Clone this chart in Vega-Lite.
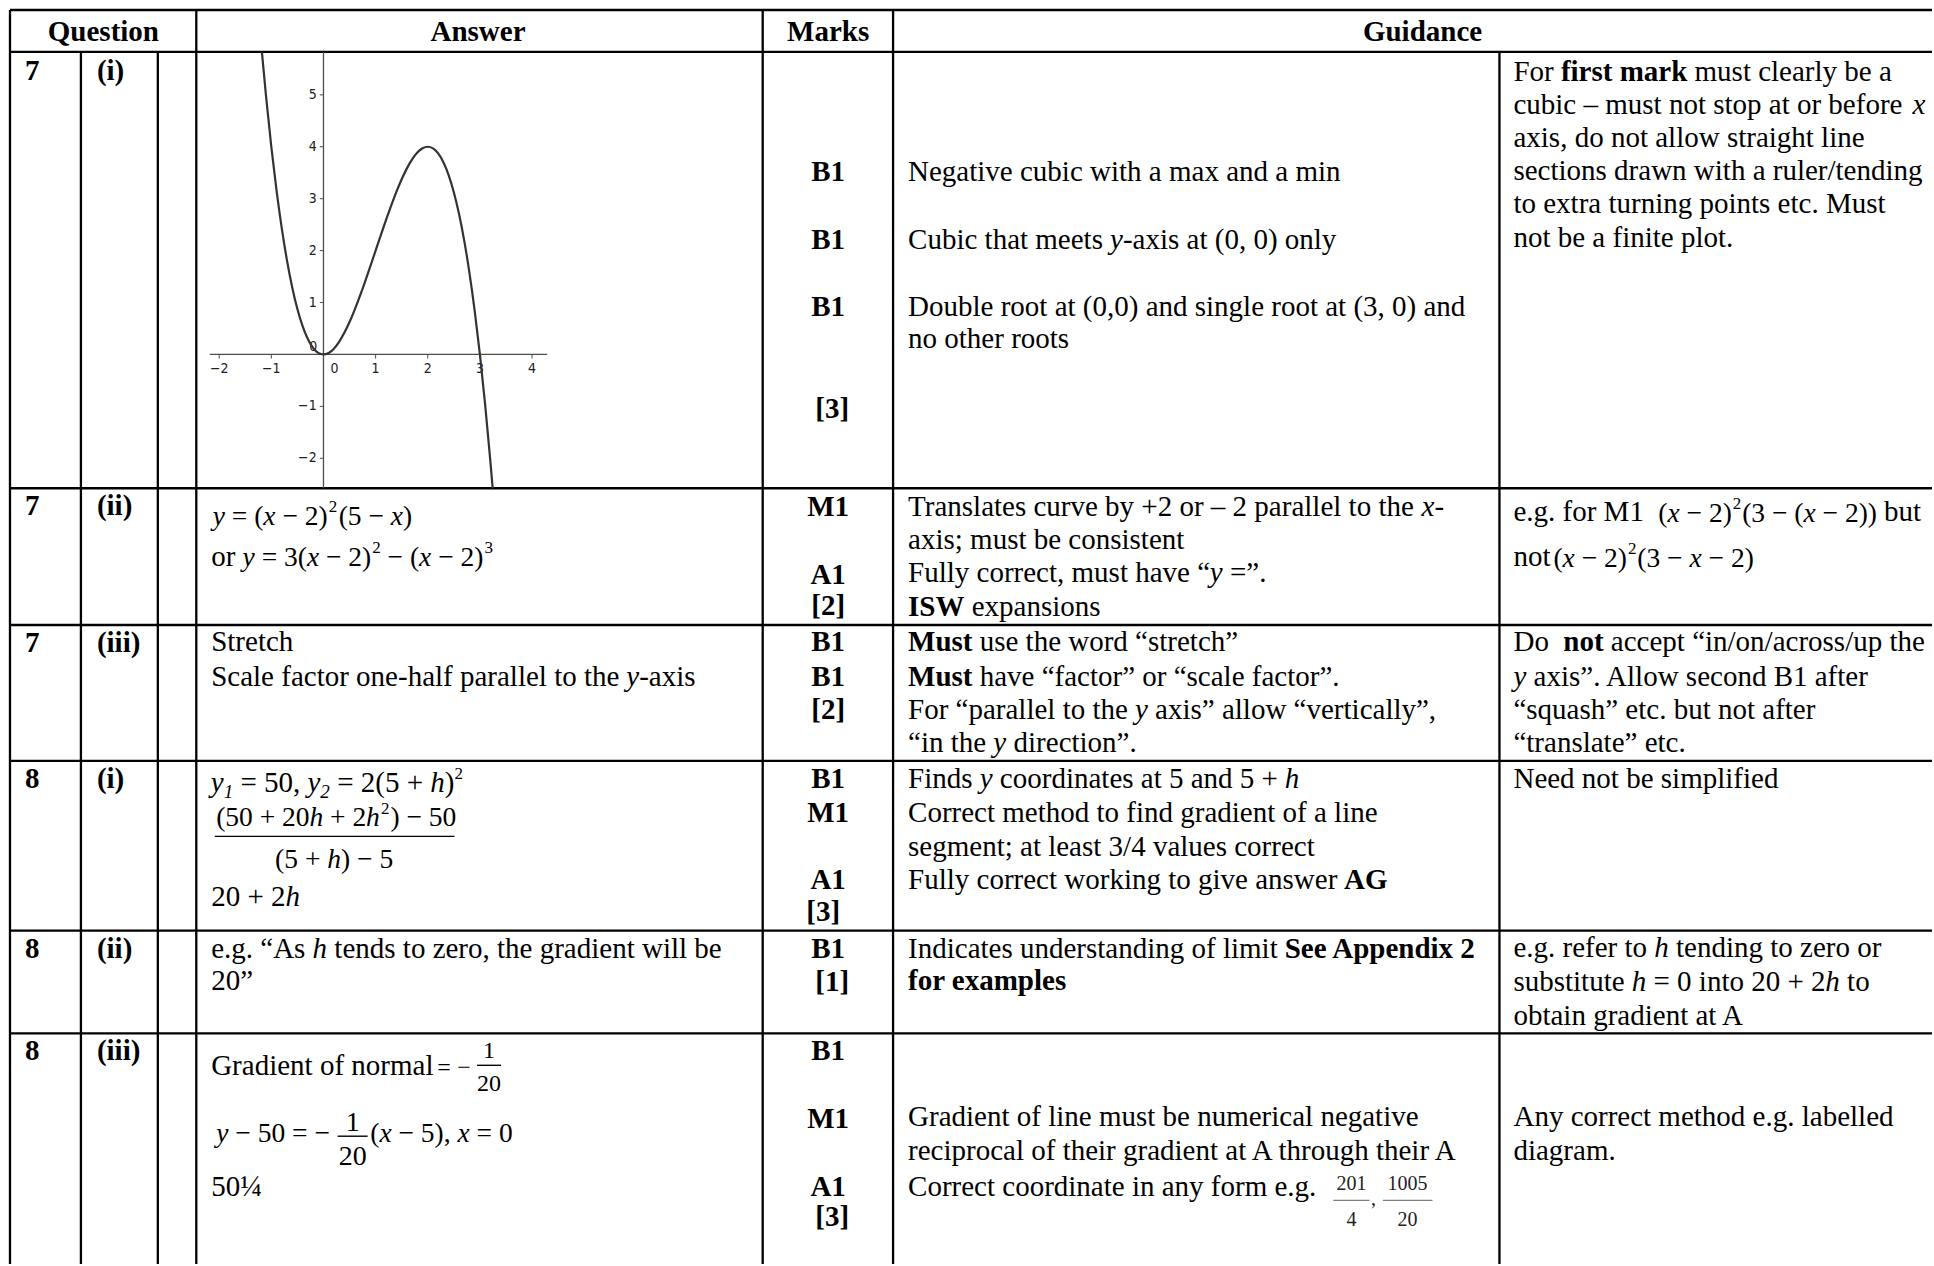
{
  "$schema": "https://vega.github.io/schema/vega-lite/v6.json",
  "width": 1934,
  "height": 1266,
  "autosize": {"type": "fit", "contains": "padding"},
  "padding": 0,
  "background": "white",
  "config": {"view": {"stroke": null}},
  "datasets": {
    "grid": [
      {"x": 10, "y": 10, "x2": 1934, "y2": 10},
      {"x": 10, "y": 52, "x2": 1934, "y2": 52},
      {"x": 10, "y": 489, "x2": 1934, "y2": 489},
      {"x": 10, "y": 626, "x2": 1934, "y2": 626},
      {"x": 10, "y": 762, "x2": 1934, "y2": 762},
      {"x": 10, "y": 932, "x2": 1934, "y2": 932},
      {"x": 10, "y": 1035, "x2": 1934, "y2": 1035},
      {"x": 10, "y": 10, "x2": 10, "y2": 1266},
      {"x": 81, "y": 52, "x2": 81, "y2": 1266},
      {"x": 158, "y": 52, "x2": 158, "y2": 1266},
      {"x": 196.5, "y": 10, "x2": 196.5, "y2": 1266},
      {"x": 763.5, "y": 10, "x2": 763.5, "y2": 1266},
      {"x": 894, "y": 10, "x2": 894, "y2": 1266},
      {"x": 1501, "y": 52, "x2": 1501, "y2": 1266}
    ],
    "bars": [
      {"x": 215, "y": 837.7, "x2": 455, "y2": 837.7},
      {"x": 477.6, "y": 1067, "x2": 501.5, "y2": 1067},
      {"x": 338, "y": 1138, "x2": 368, "y2": 1138}
    ],
    "barsGray": [
      {"x": 1334.6, "y": 1202.3, "x2": 1370.9, "y2": 1202.3},
      {"x": 1384.4, "y": 1202.3, "x2": 1434, "y2": 1202.3}
    ],
    "tBoldC": [
      {"x": 103.5, "y": 41, "t": "Question"},
      {"x": 478.5, "y": 41, "t": "Answer"},
      {"x": 829, "y": 41, "t": "Marks"},
      {"x": 1424, "y": 41, "t": "Guidance"},
      {"x": 829, "y": 181, "t": "B1"},
      {"x": 829, "y": 249, "t": "B1"},
      {"x": 829, "y": 317, "t": "B1"},
      {"x": 833, "y": 419, "t": "[3]"},
      {"x": 829, "y": 517, "t": "M1"},
      {"x": 829, "y": 585, "t": "A1"},
      {"x": 829, "y": 616, "t": "[2]"},
      {"x": 829, "y": 652, "t": "B1"},
      {"x": 829, "y": 687, "t": "B1"},
      {"x": 829, "y": 720, "t": "[2]"},
      {"x": 829, "y": 789, "t": "B1"},
      {"x": 829, "y": 823, "t": "M1"},
      {"x": 829, "y": 890, "t": "A1"},
      {"x": 824, "y": 922, "t": "[3]"},
      {"x": 829, "y": 960, "t": "B1"},
      {"x": 833, "y": 993, "t": "[1]"},
      {"x": 829, "y": 1062, "t": "B1"},
      {"x": 829, "y": 1130, "t": "M1"},
      {"x": 829, "y": 1198, "t": "A1"},
      {"x": 833, "y": 1228, "t": "[3]"}
    ],
    "tBold": [
      {"x": 25, "y": 80, "t": "7"}, {"x": 97, "y": 80, "t": "(i)"},
      {"x": 25, "y": 516, "t": "7"}, {"x": 97, "y": 516, "t": "(ii)"},
      {"x": 25, "y": 653, "t": "7"}, {"x": 97, "y": 653, "t": "(iii)"},
      {"x": 25, "y": 789, "t": "8"}, {"x": 97, "y": 789, "t": "(i)"},
      {"x": 25, "y": 960, "t": "8"}, {"x": 97, "y": 960, "t": "(ii)"},
      {"x": 25, "y": 1062, "t": "8"}, {"x": 97, "y": 1062, "t": "(iii)"},
      {"x": 1562.5, "y": 81, "t": "first mark"},
      {"x": 909, "y": 617, "t": "ISW"},
      {"x": 909, "y": 652, "t": "Must"},
      {"x": 909, "y": 687, "t": "Must"},
      {"x": 1345.5, "y": 890, "t": "AG"},
      {"x": 1286, "y": 960, "t": "See Appendix 2"},
      {"x": 909, "y": 992, "t": "for examples"},
      {"x": 1564.9, "y": 652, "t": "not"}
    ],
    "tItal": [
      {"x": 1914.5, "y": 114, "t": "x"},
      {"x": 1111.2, "y": 249, "t": "y"},
      {"x": 1423, "y": 517, "t": "x"},
      {"x": 1211, "y": 583, "t": "y"},
      {"x": 626.9, "y": 687, "t": "y"},
      {"x": 1136.1, "y": 720, "t": "y"},
      {"x": 994.4, "y": 753, "t": "y"},
      {"x": 1515, "y": 687, "t": "y"},
      {"x": 211, "y": 793, "t": "y"},
      {"x": 307.8, "y": 793, "t": "y"},
      {"x": 430.7, "y": 793, "t": "h"},
      {"x": 285.8, "y": 907, "t": "h"},
      {"x": 980.7, "y": 789, "t": "y"},
      {"x": 1286.2, "y": 789, "t": "h"},
      {"x": 312.9, "y": 960, "t": "h"},
      {"x": 1655.9, "y": 959, "t": "h"},
      {"x": 1633.4, "y": 993, "t": "h"},
      {"x": 1827.2, "y": 993, "t": "h"}
    ],
    "tReg": [
      {"x": 909, "y": 181, "t": "Negative cubic with a max and a min"},
      {"x": 909, "y": 249, "t": "Cubic that meets"},
      {"x": 1124.1, "y": 249, "t": "-axis at (0, 0) only"},
      {"x": 909, "y": 317, "t": "Double root at (0,0) and single root at (3, 0) and"},
      {"x": 909, "y": 349, "t": "no other roots"},
      {"x": 1515, "y": 81, "t": "For"},
      {"x": 1696.3, "y": 81, "t": "must clearly be a"},
      {"x": 1515, "y": 114, "t": "cubic – must not stop at or before"},
      {"x": 1515, "y": 147, "t": "axis, do not allow straight line"},
      {"x": 1515, "y": 180, "t": "sections drawn with a ruler/tending"},
      {"x": 1515, "y": 213, "t": "to extra turning points etc.  Must"},
      {"x": 1515, "y": 247, "t": "not be a finite plot."},
      {"x": 211.4, "y": 567, "t": "or"},
      {"x": 909, "y": 517, "t": "Translates curve by +2 or – 2 parallel to the"},
      {"x": 1435.9, "y": 517, "t": "-"},
      {"x": 909, "y": 550, "t": "axis;  must be consistent"},
      {"x": 909, "y": 583, "t": "Fully correct, must have “"},
      {"x": 1231.2, "y": 583, "t": "=”."},
      {"x": 972.7, "y": 617, "t": "expansions"},
      {"x": 1515, "y": 522, "t": "e.g. for M1"},
      {"x": 1886, "y": 522, "t": "but"},
      {"x": 1515, "y": 567, "t": "not"},
      {"x": 211.4, "y": 652, "t": "Stretch"},
      {"x": 211.4, "y": 687, "t": "Scale factor one-half parallel to the"},
      {"x": 639.8, "y": 687, "t": "-axis"},
      {"x": 980.7, "y": 652, "t": "use the word “stretch”"},
      {"x": 980.7, "y": 687, "t": "have “factor” or “scale factor”."},
      {"x": 909, "y": 720, "t": "For “parallel to the"},
      {"x": 1156.3, "y": 720, "t": "axis” allow “vertically”,"},
      {"x": 909, "y": 753, "t": "“in the"},
      {"x": 1014.6, "y": 753, "t": "direction”."},
      {"x": 1515, "y": 652, "t": "Do"},
      {"x": 1612.5, "y": 652, "t": "accept “in/on/across/up the"},
      {"x": 1535.2, "y": 687, "t": "axis”.  Allow second B1 after"},
      {"x": 1515, "y": 720, "t": "“squash” etc. but not after"},
      {"x": 1515, "y": 753, "t": "“translate” etc."},
      {"x": 240.7, "y": 793, "t": "= 50,"},
      {"x": 337.5, "y": 793, "t": "= 2(5 +"},
      {"x": 445.2, "y": 793, "t": ")"},
      {"x": 211.4, "y": 907, "t": "20 + 2"},
      {"x": 909, "y": 789, "t": "Finds"},
      {"x": 1000.9, "y": 789, "t": "coordinates at 5 and 5 +"},
      {"x": 909, "y": 823, "t": "Correct method to find gradient of a line"},
      {"x": 909, "y": 857, "t": "segment; at least 3/4 values correct"},
      {"x": 909, "y": 890, "t": "Fully correct working to give answer"},
      {"x": 1515, "y": 789, "t": "Need not be simplified"},
      {"x": 211.4, "y": 960, "t": "e.g. “As"},
      {"x": 334.7, "y": 960, "t": "tends to zero, the gradient will be"},
      {"x": 211.4, "y": 992, "t": "20”"},
      {"x": 909, "y": 960, "t": "Indicates understanding of limit"},
      {"x": 1515, "y": 959, "t": "e.g. refer to"},
      {"x": 1677.7, "y": 959, "t": "tending to zero or"},
      {"x": 1515, "y": 993, "t": "substitute"},
      {"x": 1655.2, "y": 993, "t": "= 0 into 20 + 2"},
      {"x": 1849, "y": 993, "t": "to"},
      {"x": 1515, "y": 1027, "t": "obtain gradient at A"},
      {"x": 211.4, "y": 1077, "t": "Gradient of normal"},
      {"x": 211.4, "y": 1198, "t": "50¼"},
      {"x": 909, "y": 1128, "t": "Gradient of line must be numerical negative"},
      {"x": 909, "y": 1162, "t": "reciprocal of their gradient at A through their A"},
      {"x": 909, "y": 1198, "t": "Correct coordinate in any form e.g."},
      {"x": 1515, "y": 1128, "t": "Any correct method e.g. labelled"},
      {"x": 1515, "y": 1162, "t": "diagram."}
    ],
    "mReg": [
      {"x": 232.1, "y": 526, "t": "= ("},
      {"x": 282.7, "y": 526, "t": "− 2)"},
      {"x": 339, "y": 526, "t": "(5 −"},
      {"x": 403.4, "y": 526, "t": ")"},
      {"x": 261.9, "y": 567, "t": "= 3("},
      {"x": 326.3, "y": 567, "t": "− 2)"},
      {"x": 388, "y": 567, "t": "− ("},
      {"x": 438.6, "y": 567, "t": "− 2)"},
      {"x": 1660, "y": 523, "t": "("},
      {"x": 1688.3, "y": 523, "t": "− 2)"},
      {"x": 1744, "y": 523, "t": "(3 − ("},
      {"x": 1824.4, "y": 523, "t": "− 2))"},
      {"x": 1555, "y": 568, "t": "("},
      {"x": 1583.3, "y": 568, "t": "− 2)"},
      {"x": 1639, "y": 568, "t": "(3 −"},
      {"x": 1710.3, "y": 568, "t": "− 2)"},
      {"x": 216.4, "y": 827, "t": "(50 + 20"},
      {"x": 330.4, "y": 827, "t": "+ 2"},
      {"x": 390.8, "y": 827, "t": ") − 50"},
      {"x": 275.4, "y": 869, "t": "(5 +"},
      {"x": 341.4, "y": 869, "t": ") − 5"},
      {"x": 235.5, "y": 1144, "t": "− 50 = −"},
      {"x": 370.6, "y": 1144, "t": "("},
      {"x": 398.9, "y": 1144, "t": "− 5),"},
      {"x": 477.1, "y": 1144, "t": "= 0"}
    ],
    "mItal": [
      {"x": 213, "y": 526, "t": "y"},
      {"x": 263.6, "y": 526, "t": "x"},
      {"x": 391.2, "y": 526, "t": "x"},
      {"x": 242.8, "y": 567, "t": "y"},
      {"x": 307.2, "y": 567, "t": "x"},
      {"x": 419.5, "y": 567, "t": "x"},
      {"x": 1669.2, "y": 523, "t": "x"},
      {"x": 1805.3, "y": 523, "t": "x"},
      {"x": 1564.2, "y": 568, "t": "x"},
      {"x": 1691.2, "y": 568, "t": "x"},
      {"x": 309.8, "y": 827, "t": "h"},
      {"x": 366.5, "y": 827, "t": "h"},
      {"x": 327.6, "y": 869, "t": "h"},
      {"x": 216.4, "y": 1144, "t": "y"},
      {"x": 379.8, "y": 1144, "t": "x"},
      {"x": 458, "y": 1144, "t": "x"}
    ],
    "mSup": [
      {"x": 329, "y": 513, "t": "2"},
      {"x": 372.6, "y": 554, "t": "2"},
      {"x": 484.9, "y": 554, "t": "3"},
      {"x": 1734.6, "y": 510, "t": "2"},
      {"x": 1629.6, "y": 555, "t": "2"},
      {"x": 381.3, "y": 815, "t": "2"},
      {"x": 454.9, "y": 780, "t": "2"}
    ],
    "subItal": [
      {"x": 223.9, "y": 799, "t": "1"},
      {"x": 320.7, "y": 799, "t": "2"}
    ],
    "fr28": [
      {"x": 353, "y": 1133, "t": "1"},
      {"x": 353, "y": 1167, "t": "20"}
    ],
    "fr24": [
      {"x": 489.5, "y": 1060, "t": "1"},
      {"x": 489.5, "y": 1093, "t": "20"},
      {"x": 444.6, "y": 1077, "t": "="},
      {"x": 464.5, "y": 1077, "t": "−"}
    ],
    "fr20": [
      {"x": 1353, "y": 1192, "t": "201"},
      {"x": 1353, "y": 1228, "t": "4"},
      {"x": 1409, "y": 1192, "t": "1005"},
      {"x": 1409, "y": 1228, "t": "20"},
      {"x": 1375, "y": 1207, "t": ","}
    ],
    "curve": [
      {"gx": -1.18, "gy": 5.82}, {"gx": -1.1, "gy": 4.961}, {"gx": -1.0, "gy": 4.0},
      {"gx": -0.9, "gy": 3.159}, {"gx": -0.8, "gy": 2.432}, {"gx": -0.7, "gy": 1.813},
      {"gx": -0.6, "gy": 1.296}, {"gx": -0.5, "gy": 0.875}, {"gx": -0.4, "gy": 0.544},
      {"gx": -0.3, "gy": 0.297}, {"gx": -0.2, "gy": 0.128}, {"gx": -0.1, "gy": 0.031},
      {"gx": 0.0, "gy": 0.0}, {"gx": 0.1, "gy": 0.029}, {"gx": 0.2, "gy": 0.112},
      {"gx": 0.3, "gy": 0.243}, {"gx": 0.4, "gy": 0.416}, {"gx": 0.5, "gy": 0.625},
      {"gx": 0.6, "gy": 0.864}, {"gx": 0.7, "gy": 1.127}, {"gx": 0.8, "gy": 1.408},
      {"gx": 0.9, "gy": 1.701}, {"gx": 1.0, "gy": 2.0}, {"gx": 1.1, "gy": 2.299},
      {"gx": 1.2, "gy": 2.592}, {"gx": 1.3, "gy": 2.873}, {"gx": 1.4, "gy": 3.136},
      {"gx": 1.5, "gy": 3.375}, {"gx": 1.6, "gy": 3.584}, {"gx": 1.7, "gy": 3.757},
      {"gx": 1.8, "gy": 3.888}, {"gx": 1.9, "gy": 3.971}, {"gx": 2.0, "gy": 4.0},
      {"gx": 2.1, "gy": 3.969}, {"gx": 2.2, "gy": 3.872}, {"gx": 2.3, "gy": 3.703},
      {"gx": 2.4, "gy": 3.456}, {"gx": 2.5, "gy": 3.125}, {"gx": 2.6, "gy": 2.704},
      {"gx": 2.7, "gy": 2.187}, {"gx": 2.8, "gy": 1.568}, {"gx": 2.9, "gy": 0.841},
      {"gx": 3.0, "gy": 0.0}, {"gx": 3.1, "gy": -0.961}, {"gx": 3.2, "gy": -2.048},
      {"gx": 3.245, "gy": -2.58}
    ],
    "gAxes": [
      {"gx": -2.18, "gy": 0, "gx2": 4.29, "gy2": 0},
      {"gx": 0, "gy": 5.827, "gx2": 0, "gy2": -2.577}
    ],
    "gTicks": [
      {"gx": -2, "gy": 0, "gx2": -2, "gy2": -0.08},
      {"gx": -1, "gy": 0, "gx2": -1, "gy2": -0.08},
      {"gx": 1, "gy": 0, "gx2": 1, "gy2": -0.08},
      {"gx": 2, "gy": 0, "gx2": 2, "gy2": -0.08},
      {"gx": 3, "gy": 0, "gx2": 3, "gy2": -0.08},
      {"gx": 4, "gy": 0, "gx2": 4, "gy2": -0.08},
      {"gx": 0, "gy": 5, "gx2": -0.07, "gy2": 5},
      {"gx": 0, "gy": 4, "gx2": -0.07, "gy2": 4},
      {"gx": 0, "gy": 3, "gx2": -0.07, "gy2": 3},
      {"gx": 0, "gy": 2, "gx2": -0.07, "gy2": 2},
      {"gx": 0, "gy": 1, "gx2": -0.07, "gy2": 1},
      {"gx": 0, "gy": -1, "gx2": -0.07, "gy2": -1},
      {"gx": 0, "gy": -2, "gx2": -0.07, "gy2": -2}
    ],
    "gLabX": [
      {"gx": -2, "gy": -0.35, "t": "−2"},
      {"gx": -1, "gy": -0.35, "t": "−1"},
      {"gx": 0.21, "gy": -0.35, "t": "0"},
      {"gx": 1, "gy": -0.35, "t": "1"},
      {"gx": 2, "gy": -0.35, "t": "2"},
      {"gx": 3, "gy": -0.35, "t": "3"},
      {"gx": 4, "gy": -0.35, "t": "4"}
    ],
    "gLabY": [
      {"gx": -0.13, "gy": 5, "t": "5"},
      {"gx": -0.13, "gy": 4, "t": "4"},
      {"gx": -0.13, "gy": 3, "t": "3"},
      {"gx": -0.13, "gy": 2, "t": "2"},
      {"gx": -0.13, "gy": 1, "t": "1"},
      {"gx": -0.12, "gy": 0.14, "t": "0"},
      {"gx": -0.13, "gy": -1, "t": "−1"},
      {"gx": -0.13, "gy": -2, "t": "−2"}
    ]
  },
  "layer": [
    {
      "layer": [
        {
          "data": {"name": "grid"},
          "mark": {"type": "rule", "color": "black", "strokeWidth": 2.3},
          "encoding": {
            "x": {"field": "x", "type": "quantitative", "scale": {"domain": [0, 1934], "nice": false, "zero": false}, "axis": null},
            "y": {"field": "y", "type": "quantitative", "scale": {"domain": [0, 1266], "nice": false, "zero": false, "reverse": true}, "axis": null},
            "x2": {"field": "x2"},
            "y2": {"field": "y2"}
          }
        },
        {
          "data": {"name": "bars"},
          "mark": {"type": "rule", "color": "black", "strokeWidth": 1.4},
          "encoding": {
            "x": {"field": "x", "type": "quantitative", "scale": {"domain": [0, 1934], "nice": false, "zero": false}, "axis": null},
            "y": {"field": "y", "type": "quantitative", "scale": {"domain": [0, 1266], "nice": false, "zero": false, "reverse": true}, "axis": null},
            "x2": {"field": "x2"},
            "y2": {"field": "y2"}
          }
        },
        {
          "data": {"name": "barsGray"},
          "mark": {"type": "rule", "color": "#808080", "strokeWidth": 1.4},
          "encoding": {
            "x": {"field": "x", "type": "quantitative", "scale": {"domain": [0, 1934], "nice": false, "zero": false}, "axis": null},
            "y": {"field": "y", "type": "quantitative", "scale": {"domain": [0, 1266], "nice": false, "zero": false, "reverse": true}, "axis": null},
            "x2": {"field": "x2"},
            "y2": {"field": "y2"}
          }
        },
        {
          "data": {"name": "tBoldC"},
          "mark": {"type": "text", "font": "Liberation Serif", "fontSize": 29, "fontWeight": "bold", "align": "center", "baseline": "alphabetic", "color": "black"},
          "encoding": {
            "x": {"field": "x", "type": "quantitative", "scale": {"domain": [0, 1934], "nice": false, "zero": false}, "axis": null},
            "y": {"field": "y", "type": "quantitative", "scale": {"domain": [0, 1266], "nice": false, "zero": false, "reverse": true}, "axis": null},
            "text": {"field": "t"}
          }
        },
        {
          "data": {"name": "tBold"},
          "mark": {"type": "text", "font": "Liberation Serif", "fontSize": 29, "fontWeight": "bold", "align": "left", "baseline": "alphabetic", "color": "black"},
          "encoding": {
            "x": {"field": "x", "type": "quantitative", "scale": {"domain": [0, 1934], "nice": false, "zero": false}, "axis": null},
            "y": {"field": "y", "type": "quantitative", "scale": {"domain": [0, 1266], "nice": false, "zero": false, "reverse": true}, "axis": null},
            "text": {"field": "t"}
          }
        },
        {
          "data": {"name": "tItal"},
          "mark": {"type": "text", "font": "Liberation Serif", "fontSize": 29, "fontStyle": "italic", "align": "left", "baseline": "alphabetic", "color": "black"},
          "encoding": {
            "x": {"field": "x", "type": "quantitative", "scale": {"domain": [0, 1934], "nice": false, "zero": false}, "axis": null},
            "y": {"field": "y", "type": "quantitative", "scale": {"domain": [0, 1266], "nice": false, "zero": false, "reverse": true}, "axis": null},
            "text": {"field": "t"}
          }
        },
        {
          "data": {"name": "tReg"},
          "mark": {"type": "text", "font": "Liberation Serif", "fontSize": 29, "align": "left", "baseline": "alphabetic", "color": "black"},
          "encoding": {
            "x": {"field": "x", "type": "quantitative", "scale": {"domain": [0, 1934], "nice": false, "zero": false}, "axis": null},
            "y": {"field": "y", "type": "quantitative", "scale": {"domain": [0, 1266], "nice": false, "zero": false, "reverse": true}, "axis": null},
            "text": {"field": "t"}
          }
        },
        {
          "data": {"name": "mReg"},
          "mark": {"type": "text", "font": "Liberation Serif", "fontSize": 27.5, "align": "left", "baseline": "alphabetic", "color": "black"},
          "encoding": {
            "x": {"field": "x", "type": "quantitative", "scale": {"domain": [0, 1934], "nice": false, "zero": false}, "axis": null},
            "y": {"field": "y", "type": "quantitative", "scale": {"domain": [0, 1266], "nice": false, "zero": false, "reverse": true}, "axis": null},
            "text": {"field": "t"}
          }
        },
        {
          "data": {"name": "mItal"},
          "mark": {"type": "text", "font": "Liberation Serif", "fontSize": 27.5, "fontStyle": "italic", "align": "left", "baseline": "alphabetic", "color": "black"},
          "encoding": {
            "x": {"field": "x", "type": "quantitative", "scale": {"domain": [0, 1934], "nice": false, "zero": false}, "axis": null},
            "y": {"field": "y", "type": "quantitative", "scale": {"domain": [0, 1266], "nice": false, "zero": false, "reverse": true}, "axis": null},
            "text": {"field": "t"}
          }
        },
        {
          "data": {"name": "mSup"},
          "mark": {"type": "text", "font": "Liberation Serif", "fontSize": 17, "align": "left", "baseline": "alphabetic", "color": "black"},
          "encoding": {
            "x": {"field": "x", "type": "quantitative", "scale": {"domain": [0, 1934], "nice": false, "zero": false}, "axis": null},
            "y": {"field": "y", "type": "quantitative", "scale": {"domain": [0, 1266], "nice": false, "zero": false, "reverse": true}, "axis": null},
            "text": {"field": "t"}
          }
        },
        {
          "data": {"name": "subItal"},
          "mark": {"type": "text", "font": "Liberation Serif", "fontSize": 19, "fontStyle": "italic", "align": "left", "baseline": "alphabetic", "color": "black"},
          "encoding": {
            "x": {"field": "x", "type": "quantitative", "scale": {"domain": [0, 1934], "nice": false, "zero": false}, "axis": null},
            "y": {"field": "y", "type": "quantitative", "scale": {"domain": [0, 1266], "nice": false, "zero": false, "reverse": true}, "axis": null},
            "text": {"field": "t"}
          }
        },
        {
          "data": {"name": "fr28"},
          "mark": {"type": "text", "font": "Liberation Serif", "fontSize": 28, "align": "center", "baseline": "alphabetic", "color": "black"},
          "encoding": {
            "x": {"field": "x", "type": "quantitative", "scale": {"domain": [0, 1934], "nice": false, "zero": false}, "axis": null},
            "y": {"field": "y", "type": "quantitative", "scale": {"domain": [0, 1266], "nice": false, "zero": false, "reverse": true}, "axis": null},
            "text": {"field": "t"}
          }
        },
        {
          "data": {"name": "fr24"},
          "mark": {"type": "text", "font": "Liberation Serif", "fontSize": 24, "align": "center", "baseline": "alphabetic", "color": "black"},
          "encoding": {
            "x": {"field": "x", "type": "quantitative", "scale": {"domain": [0, 1934], "nice": false, "zero": false}, "axis": null},
            "y": {"field": "y", "type": "quantitative", "scale": {"domain": [0, 1266], "nice": false, "zero": false, "reverse": true}, "axis": null},
            "text": {"field": "t"}
          }
        },
        {
          "data": {"name": "fr20"},
          "mark": {"type": "text", "font": "Liberation Serif", "fontSize": 20, "align": "center", "baseline": "alphabetic", "color": "#222222"},
          "encoding": {
            "x": {"field": "x", "type": "quantitative", "scale": {"domain": [0, 1934], "nice": false, "zero": false}, "axis": null},
            "y": {"field": "y", "type": "quantitative", "scale": {"domain": [0, 1266], "nice": false, "zero": false, "reverse": true}, "axis": null},
            "text": {"field": "t"}
          }
        }
      ]
    },
    {
      "layer": [
        {
          "data": {"name": "gAxes"},
          "mark": {"type": "rule", "color": "#4d4d4d", "strokeWidth": 1.3},
          "encoding": {
            "x": {"field": "gx", "type": "quantitative", "scale": {"domain": [-6.2031, 30.8467], "nice": false, "zero": false}, "axis": null},
            "y": {"field": "gy", "type": "quantitative", "scale": {"domain": [-17.519, 6.827], "nice": false, "zero": false}, "axis": null},
            "x2": {"field": "gx2"},
            "y2": {"field": "gy2"}
          }
        },
        {
          "data": {"name": "gTicks"},
          "mark": {"type": "rule", "color": "#4d4d4d", "strokeWidth": 1},
          "encoding": {
            "x": {"field": "gx", "type": "quantitative", "scale": {"domain": [-6.2031, 30.8467], "nice": false, "zero": false}, "axis": null},
            "y": {"field": "gy", "type": "quantitative", "scale": {"domain": [-17.519, 6.827], "nice": false, "zero": false}, "axis": null},
            "x2": {"field": "gx2"},
            "y2": {"field": "gy2"}
          }
        },
        {
          "data": {"name": "gLabX"},
          "mark": {"type": "text", "font": "Liberation Sans Narrow, DejaVu Sans Condensed, sans-serif", "fontSize": 14, "align": "center", "baseline": "alphabetic", "color": "#222222"},
          "encoding": {
            "x": {"field": "gx", "type": "quantitative", "scale": {"domain": [-6.2031, 30.8467], "nice": false, "zero": false}, "axis": null},
            "y": {"field": "gy", "type": "quantitative", "scale": {"domain": [-17.519, 6.827], "nice": false, "zero": false}, "axis": null},
            "text": {"field": "t"}
          }
        },
        {
          "data": {"name": "gLabY"},
          "mark": {"type": "text", "font": "Liberation Sans Narrow, DejaVu Sans Condensed, sans-serif", "fontSize": 14, "align": "right", "baseline": "middle", "color": "#222222"},
          "encoding": {
            "x": {"field": "gx", "type": "quantitative", "scale": {"domain": [-6.2031, 30.8467], "nice": false, "zero": false}, "axis": null},
            "y": {"field": "gy", "type": "quantitative", "scale": {"domain": [-17.519, 6.827], "nice": false, "zero": false}, "axis": null},
            "text": {"field": "t"}
          }
        },
        {
          "data": {"name": "curve"},
          "mark": {"type": "line", "color": "#333333", "strokeWidth": 2.2, "interpolate": "monotone"},
          "encoding": {
            "x": {"field": "gx", "type": "quantitative", "scale": {"domain": [-6.2031, 30.8467], "nice": false, "zero": false}, "axis": null},
            "y": {"field": "gy", "type": "quantitative", "scale": {"domain": [-17.519, 6.827], "nice": false, "zero": false}, "axis": null}
          }
        }
      ]
    }
  ],
  "resolve": {"scale": {"x": "independent", "y": "independent"}}
}
